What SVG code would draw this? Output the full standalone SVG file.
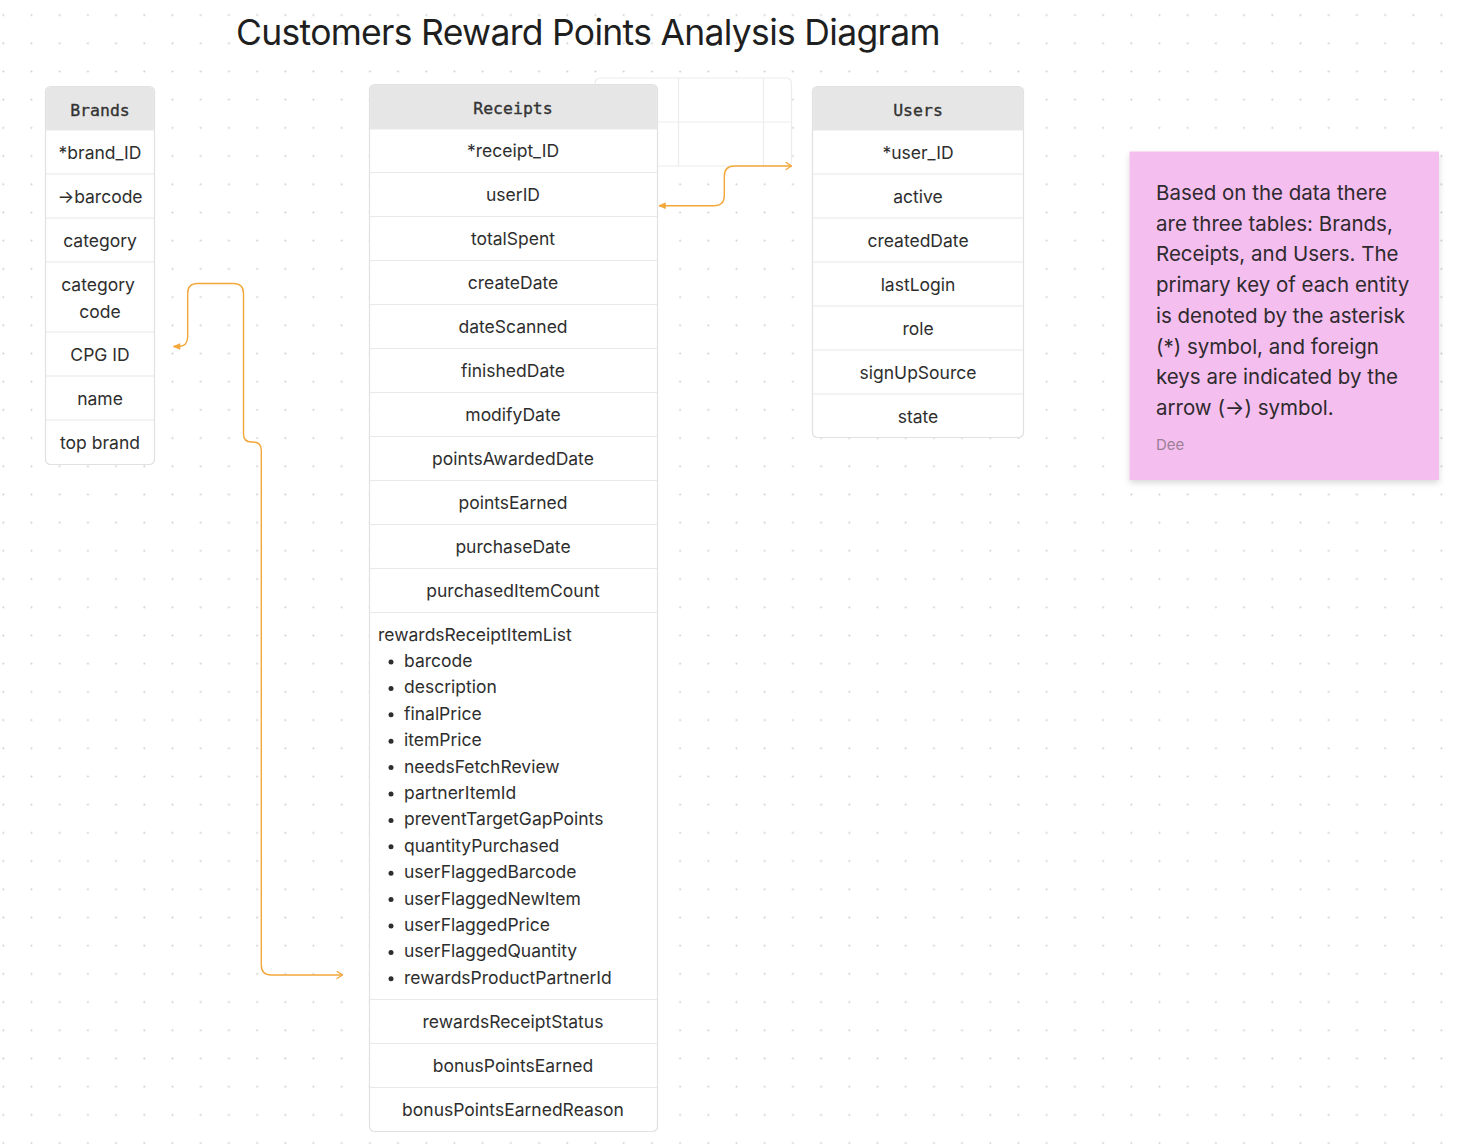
<svg xmlns="http://www.w3.org/2000/svg" width="1458" height="1144" viewBox="0 0 1458 1144">
<defs>
<pattern id="dots" x="0" y="0" width="28.2" height="28.2" patternUnits="userSpaceOnUse">
<circle cx="3.3" cy="15" r="1" fill="#cdcdcd"/>
</pattern>
<filter id="shadow" x="-10%" y="-10%" width="125%" height="125%">
<feDropShadow dx="0" dy="3" stdDeviation="3" flood-color="#000" flood-opacity="0.15"/>
</filter>
<marker id="tri" viewBox="0 0 10 10" refX="9" refY="5" markerWidth="8" markerHeight="8" markerUnits="userSpaceOnUse" orient="auto-start-reverse">
<path d="M1,1.5 L9,5 L1,8.5 Z" fill="#f2a73b" stroke="#f2a73b" stroke-width="1" stroke-linejoin="round"/>
</marker>
<marker id="chev" viewBox="0 0 10 10" refX="9" refY="5" markerWidth="9" markerHeight="9" markerUnits="userSpaceOnUse" orient="auto">
<path d="M3,1 L9,5 L3,9" fill="none" stroke="#f2a73b" stroke-width="1.4" stroke-linecap="round" stroke-linejoin="round"/>
</marker>
</defs>
<style>
.tbl{fill:#fff;stroke:#e1e1e1;stroke-width:1.2}
.hdr{fill:#e6e6e6}
.sep{stroke:#e8e8e8;stroke-width:1.2}
.hd{font-family:"DejaVu Sans Mono","Liberation Mono",monospace;font-size:16.5px;fill:#333;stroke:#333;stroke-width:0.35;text-anchor:middle}
.cell{font-family:Inter,"Liberation Sans",sans-serif;font-size:17.5px;fill:#2e2e2e;text-anchor:middle}
.lst{font-family:Inter,"Liberation Sans",sans-serif;font-size:17.5px;fill:#2e2e2e}
.note{font-family:Inter,"Liberation Sans",sans-serif;font-size:20.5px;fill:#2f2a2e}
.conn{fill:none;stroke:#f2a73b;stroke-width:1.4}
</style>
<rect width="1458" height="1144" fill="#fff"/>
<rect width="1458" height="1144" fill="url(#dots)"/>

<text id="title" x="236" y="45" font-family="Inter,'Liberation Sans',sans-serif" font-size="35.5" letter-spacing="-0.7" fill="#1f1f1f">Customers Reward Points Analysis Diagram</text>

<g id="bgtable">
<rect x="595" y="78" width="196.5" height="88" rx="5" fill="#fff" stroke="#ececec" stroke-width="1.2"/>
<line x1="595" y1="122" x2="791.5" y2="122" stroke="#ececec" stroke-width="1.2"/>
<line x1="678.5" y1="78" x2="678.5" y2="166" stroke="#ececec" stroke-width="1.2"/>
<line x1="763.5" y1="78" x2="763.5" y2="166" stroke="#ececec" stroke-width="1.2"/>
</g>

<g id="brands">
<rect class="tbl" x="45.5" y="86.5" width="109" height="378" rx="5"/>
<path class="hdr" d="M46.1,130 V91.5 Q46.1,87.1 50.5,87.1 H149.5 Q153.9,87.1 153.9,91.5 V130 Z"/>
<line class="sep" x1="46" y1="130" x2="154" y2="130"/>
<line class="sep" x1="46" y1="174" x2="154" y2="174"/>
<line class="sep" x1="46" y1="218" x2="154" y2="218"/>
<line class="sep" x1="46" y1="262" x2="154" y2="262"/>
<line class="sep" x1="46" y1="332" x2="154" y2="332"/>
<line class="sep" x1="46" y1="376" x2="154" y2="376"/>
<line class="sep" x1="46" y1="420" x2="154" y2="420"/>
<text class="hd" x="100" y="115.5">Brands</text>
<text class="cell" x="100" y="158.5">*brand_ID</text>
<text class="cell" x="100" y="202.5">→barcode</text>
<text class="cell" x="100" y="246.5">category</text>
<text class="cell" x="98" y="291">category</text>
<text class="cell" x="100" y="317.5">code</text>
<text class="cell" x="100" y="360.5">CPG ID</text>
<text class="cell" x="100" y="404.5">name</text>
<text class="cell" x="100" y="448.5">top brand</text>
</g>

<g id="receipts">
<rect class="tbl" x="369.5" y="84.5" width="288" height="1047" rx="5"/>
<path class="hdr" d="M370.1,129 V89.5 Q370.1,85.1 374.5,85.1 H652.5 Q656.9,85.1 656.9,89.5 V129 Z"/>
<line class="sep" x1="370" y1="129" x2="657" y2="129"/>
<line class="sep" x1="370" y1="172.5" x2="657" y2="172.5"/>
<line class="sep" x1="370" y1="216.5" x2="657" y2="216.5"/>
<line class="sep" x1="370" y1="260.5" x2="657" y2="260.5"/>
<line class="sep" x1="370" y1="304.5" x2="657" y2="304.5"/>
<line class="sep" x1="370" y1="348.5" x2="657" y2="348.5"/>
<line class="sep" x1="370" y1="392.5" x2="657" y2="392.5"/>
<line class="sep" x1="370" y1="436.5" x2="657" y2="436.5"/>
<line class="sep" x1="370" y1="480.5" x2="657" y2="480.5"/>
<line class="sep" x1="370" y1="524.5" x2="657" y2="524.5"/>
<line class="sep" x1="370" y1="568.5" x2="657" y2="568.5"/>
<line class="sep" x1="370" y1="612.5" x2="657" y2="612.5"/>
<line class="sep" x1="370" y1="999.5" x2="657" y2="999.5"/>
<line class="sep" x1="370" y1="1043.5" x2="657" y2="1043.5"/>
<line class="sep" x1="370" y1="1087.5" x2="657" y2="1087.5"/>
<text class="hd" x="513" y="114">Receipts</text>
<text class="cell" x="513" y="157">*receipt_ID</text>
<text class="cell" x="513" y="201">userID</text>
<text class="cell" x="513" y="245">totalSpent</text>
<text class="cell" x="513" y="289">createDate</text>
<text class="cell" x="513" y="333">dateScanned</text>
<text class="cell" x="513" y="377">finishedDate</text>
<text class="cell" x="513" y="421">modifyDate</text>
<text class="cell" x="513" y="465">pointsAwardedDate</text>
<text class="cell" x="513" y="509">pointsEarned</text>
<text class="cell" x="513" y="553">purchaseDate</text>
<text class="cell" x="513" y="597">purchasedItemCount</text>
<text class="lst" x="378" y="641">rewardsReceiptItemList</text>
<g fill="#2e2e2e">
<circle cx="391" cy="662" r="2.5"/><circle cx="391" cy="688.4" r="2.5"/><circle cx="391" cy="714.8" r="2.5"/><circle cx="391" cy="741.2" r="2.5"/><circle cx="391" cy="767.6" r="2.5"/><circle cx="391" cy="794" r="2.5"/><circle cx="391" cy="820.4" r="2.5"/><circle cx="391" cy="846.8" r="2.5"/><circle cx="391" cy="873.2" r="2.5"/><circle cx="391" cy="899.6" r="2.5"/><circle cx="391" cy="926" r="2.5"/><circle cx="391" cy="952.4" r="2.5"/><circle cx="391" cy="978.8" r="2.5"/>
</g>
<text class="lst" x="404" y="667">barcode</text>
<text class="lst" x="404" y="693.4">description</text>
<text class="lst" x="404" y="719.8">finalPrice</text>
<text class="lst" x="404" y="746.2">itemPrice</text>
<text class="lst" x="404" y="772.6">needsFetchReview</text>
<text class="lst" x="404" y="799">partnerItemId</text>
<text class="lst" x="404" y="825.4">preventTargetGapPoints</text>
<text class="lst" x="404" y="851.8">quantityPurchased</text>
<text class="lst" x="404" y="878.2">userFlaggedBarcode</text>
<text class="lst" x="404" y="904.6">userFlaggedNewItem</text>
<text class="lst" x="404" y="931">userFlaggedPrice</text>
<text class="lst" x="404" y="957.4">userFlaggedQuantity</text>
<text class="lst" x="404" y="983.8">rewardsProductPartnerId</text>
<text class="cell" x="513" y="1028">rewardsReceiptStatus</text>
<text class="cell" x="513" y="1072">bonusPointsEarned</text>
<text class="cell" x="513" y="1116">bonusPointsEarnedReason</text>
</g>

<g id="users">
<rect class="tbl" x="812.5" y="86.5" width="211" height="351" rx="5"/>
<path class="hdr" d="M813.1,130 V91.5 Q813.1,87.1 817.5,87.1 H1018.5 Q1022.9,87.1 1022.9,91.5 V130 Z"/>
<line class="sep" x1="813" y1="130" x2="1023" y2="130"/>
<line class="sep" x1="813" y1="174" x2="1023" y2="174"/>
<line class="sep" x1="813" y1="218" x2="1023" y2="218"/>
<line class="sep" x1="813" y1="262" x2="1023" y2="262"/>
<line class="sep" x1="813" y1="306" x2="1023" y2="306"/>
<line class="sep" x1="813" y1="350" x2="1023" y2="350"/>
<line class="sep" x1="813" y1="394" x2="1023" y2="394"/>
<text class="hd" x="918" y="115.5">Users</text>
<text class="cell" x="918" y="158.5">*user_ID</text>
<text class="cell" x="918" y="202.5">active</text>
<text class="cell" x="918" y="246.5">createdDate</text>
<text class="cell" x="918" y="290.5">lastLogin</text>
<text class="cell" x="918" y="334.5">role</text>
<text class="cell" x="918" y="378.5">signUpSource</text>
<text class="cell" x="918" y="422.5">state</text>
</g>

<g id="note">
<rect x="1129.5" y="151.5" width="309.5" height="328.5" fill="#f4bfee" filter="url(#shadow)"/>
<text class="note" x="1156" y="200">Based on the data there</text>
<text class="note" x="1156" y="230.7">are three tables: Brands,</text>
<text class="note" x="1156" y="261.4">Receipts, and Users. The</text>
<text class="note" x="1156" y="292.1">primary key of each entity</text>
<text class="note" x="1156" y="322.8">is denoted by the asterisk</text>
<text class="note" x="1156" y="353.5">(*) symbol, and foreign</text>
<text class="note" x="1156" y="384.2">keys are indicated by the</text>
<text class="note" x="1156" y="414.9">arrow (→) symbol.</text>
<text x="1156" y="450" font-family="Inter,'Liberation Sans',sans-serif" font-size="15" fill="#9c7f97">Dee</text>
</g>

<g id="connectors">
<path class="conn" d="M659,205.7 H714 Q724.3,205.7 724.3,195.5 V176.3 Q724.3,166 734.5,166 H791.5" marker-start="url(#tri)" marker-end="url(#chev)"/>
<path class="conn" d="M173.5,346.5 H178 Q187.7,346.5 187.7,336.8 V293.3 Q187.7,283.5 197.5,283.5 H233.5 Q243.5,283.5 243.5,293.5 V434 Q243.5,442 251.5,442 H253 Q261.3,442 261.3,450.3 V965 Q261.3,975 271.3,975 H342.5" marker-start="url(#tri)" marker-end="url(#chev)"/>
</g>
</svg>
